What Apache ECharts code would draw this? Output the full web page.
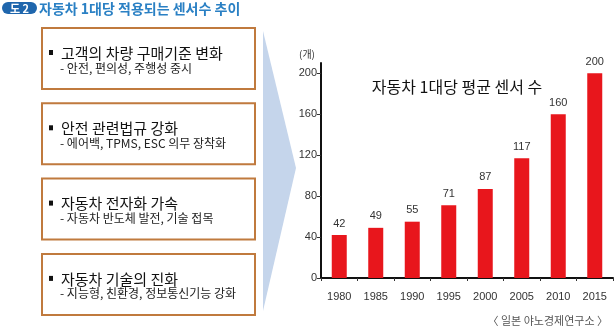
<!DOCTYPE html>
<html>
<head>
<meta charset="utf-8">
<script src="https://cdn.jsdelivr.net/npm/echarts@6/dist/echarts.min.js"></script>
<style>
  html, body { margin: 0; padding: 0; background: #fff; }
  #chart { width: 614px; height: 328px; }
</style>
</head>
<body>
<div id="chart"></div>
<script>
// Average number of sensors per vehicle, by year
const years = ['1980', '1985', '1990', '1995', '2000', '2005', '2010', '2015'];
const sensorCounts = [42, 49, 55, 71, 87, 117, 160, 200];
const yTicks = [0, 40, 80, 120, 160, 200];

// Driver panels on the left: heading + detail line
const driverHeads = ['고객의 차량 구매기준 변화', '안전 관련법규 강화', '자동차 전자화 가속', '자동차 기술의 진화'];
const driverDetails = ['- 안전, 편의성, 주행성 중시', '- 에어백, TPMS, ESC 의무 장착화', '- 자동차 반도체 발전, 기술 접목', '- 지능형, 친환경, 정보통신기능 강화'];

const KR = '"Noto Sans CJK KR", "Noto Sans", sans-serif';
const NUM = '"Liberation Sans Narrow", "Liberation Sans", Arial, sans-serif';

const chart = echarts.init(document.getElementById('chart'), null, { renderer: 'canvas' });

// Left-hand panels
const panelTop = 28, panelStep = 75.3, panelH = 61;
const graphics = [];
driverHeads.forEach((head, i) => {
  const y0 = panelTop + i * panelStep;
  graphics.push({
    type: 'rect',
    shape: { x: 42, y: y0, width: 213, height: panelH },
    style: { fill: '#fff', stroke: '#c07a3e', lineWidth: 2 }
  });
  graphics.push({
    type: 'rect',
    shape: { x: 49, y: y0 + 22, width: 4, height: 5 },
    style: { fill: '#111' }
  });
  graphics.push({
    type: 'text',
    style: { text: head, x: 61, y: y0 + 25, font: '15px ' + KR, fill: '#111', verticalAlign: 'middle', align: 'left' }
  });
  graphics.push({
    type: 'text',
    style: { text: driverDetails[i], x: 60, y: y0 + 40, font: '12px ' + KR, fill: '#222', verticalAlign: 'middle', align: 'left' }
  });
});

// Arrow wedge pointing toward the chart
graphics.push({
  type: 'polygon',
  shape: { points: [[263, 31], [296, 168], [263, 311]] },
  style: { fill: '#c5d5eb' }
});

// Figure header
graphics.push({
  type: 'rect',
  shape: { x: 2, y: 2, width: 35, height: 12, r: 6 },
  style: { fill: '#1f66ad' }
});
graphics.push({
  type: 'text',
  style: { text: '도 2', x: 19.5, y: 8.5, font: 'bold 11px ' + KR, fill: '#fff', align: 'center', verticalAlign: 'middle' }
});
graphics.push({
  type: 'text',
  style: { text: '자동차 1대당 적용되는 센서수 추이', x: 39, y: 8.5, font: 'bold 14px ' + KR, fill: '#2a80c4', align: 'left', verticalAlign: 'middle' }
});

// Chart caption, unit and source
graphics.push({
  type: 'text',
  style: { text: '자동차 1대당 평균 센서 수', x: 457, y: 87, font: '16px ' + KR, fill: '#111', align: 'center', verticalAlign: 'middle' }
});
graphics.push({
  type: 'text',
  style: { text: '(개)', x: 307, y: 54, font: '10px ' + KR, fill: '#333', align: 'center', verticalAlign: 'middle' }
});
graphics.push({
  type: 'text',
  style: { text: '〈 일본 야노경제연구소 〉', x: 608, y: 321, font: '11px ' + KR, fill: '#555', align: 'right', verticalAlign: 'middle' }
});

chart.setOption({
  animation: false,
  backgroundColor: '#fff',
  grid: { left: 321, top: 63, width: 292, bottom: 50, containLabel: false },
  xAxis: {
    type: 'category',
    data: years,
    axisLine: { show: true, lineStyle: { color: '#111', width: 2 } },
    axisTick: { show: true, alignWithLabel: false, length: 3, lineStyle: { color: '#333' } },
    axisLabel: { color: '#333', fontFamily: NUM, fontSize: 11, margin: 13 }
  },
  yAxis: {
    type: 'value',
    min: 0,
    max: 210,
    interval: 40,
    splitLine: { show: false },
    axisLine: { show: true, lineStyle: { color: '#111', width: 2 } },
    axisTick: { show: true, length: 4, customValues: yTicks, lineStyle: { color: '#333' } },
    axisLabel: { color: '#333', fontFamily: NUM, fontSize: 11, margin: 4, customValues: yTicks }
  },
  series: [{
    type: 'bar',
    data: sensorCounts,
    barWidth: 15,
    itemStyle: { color: '#e8161c' },
    label: { show: true, position: 'top', distance: 6, color: '#333', fontFamily: NUM, fontSize: 11 }
  }],
  graphic: graphics
});
</script>
</body>
</html>
